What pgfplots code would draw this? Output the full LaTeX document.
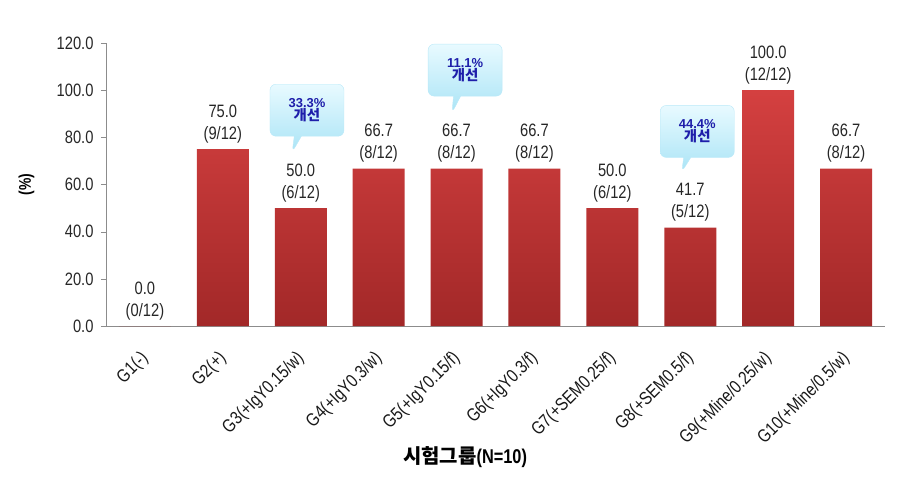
\documentclass[border=0pt]{standalone}
\usepackage{fontspec}
\setmainfont{Liberation Sans}[FakeStretch=0.82]
\newfontfamily\plainsans{Liberation Sans}
\newfontfamily\kr{Noto Sans CJK KR}
\usepackage{pgfplots}
\usepackage{pgfplotstable}
\pgfplotsset{compat=1.18}
\usetikzlibrary{shapes.callouts}
\definecolor{barTop}{RGB}{212,64,64}
\definecolor{barBot}{RGB}{162,40,40}
\definecolor{calTxt}{RGB}{30,30,170}
\definecolor{calTop}{RGB}{232,250,255}
\definecolor{calBot}{RGB}{170,228,246}
\pgfplotstableread{
x y lab
0 0.0 0/12
1 75.0 9/12
2 50.0 6/12
3 66.7 8/12
4 66.7 8/12
5 66.7 8/12
6 50.0 6/12
7 41.7 5/12
8 100.0 12/12
9 66.7 8/12
}\data
\begin{document}
\begin{tikzpicture}
\begin{axis}[
  scale only axis, width=779bp, height=283bp,
  xmin=-0.5, xmax=9.5, ymin=0, ymax=120,
  ytick={0,20,...,120},
  xtick={0,...,9},
  xticklabels={G1(-),G2(+),G3(+IgY0.15/w),G4(+IgY0.3/w),G5(+IgY0.15/f),G6(+IgY0.3/f),G7(+SEM0.25/f),G8(+SEM0.5/f),G9(+Mine/0.25/w),G10(+Mine/0.5/w)},
  xticklabel style={rotate=45, anchor=north east, font=\fontsize{18.5}{20}\selectfont, inner sep=0bp, yshift=-9bp, xshift=-17bp, color=black!90},
  yticklabel style={font=\fontsize{18}{20}\selectfont, color=black!85, xshift=-4bp},
  /pgf/number format/assume math mode=true,
  yticklabel={\pgfmathprintnumber[fixed,fixed zerofill,precision=1]{\tick}},
  axis x line*=bottom, axis y line*=left,
  axis line style={-, draw=black!45},
  xtick style={draw=none},
  ytick style={draw=black!45},
  tick align=outside, major tick length=5bp,
  clip=false,
  ylabel={\bfseries(\%)},
  ylabel style={at={(axis description cs:-0.102,0.5)}, anchor=center, font=\fontsize{17}{19}\selectfont},
  xlabel={{\kr\bfseries 시험그룹}\bfseries(N=10)},
  xlabel style={at={(axis description cs:0.461,-0.463)}, anchor=center, font=\fontsize{20}{22}\selectfont},
  nodes near coords={\pgfmathprintnumber[fixed,fixed zerofill,precision=1]{\rawy}\\(\pgfplotspointmeta)},
  every node near coord/.append style={align=center, font=\fontsize{18}{22}\selectfont, color=black!85, inner sep=2bp, yshift=4bp},
]
\addplot[ybar, bar width=52bp, draw=none, top color=barTop, bottom color=barBot,
  point meta=explicit symbolic, visualization depends on={rawy \as \rawy}]
  table[x=x, y=y, meta=lab] {\data};
\coordinate (O) at (rel axis cs:0,0);
\node[rectangle callout, rounded corners=6bp, minimum width=74bp, minimum height=52bp, align=center,
  top color=calTop, bottom color=calBot, draw=calBot!80!white, line width=0.4bp,
  callout absolute pointer={(axis cs:1.89,73.7)}, inner sep=2bp]
  at (axis cs:2.08,91.5) {\plainsans\fontsize{13}{18}\selectfont\bfseries\color{calTxt}33.3\%\\{\kr\fontsize{14.5}{18}\selectfont\bfseries\color{calTxt}개선}};
\node[rectangle callout, rounded corners=6bp, minimum width=74bp, minimum height=52bp, align=center,
  top color=calTop, bottom color=calBot, draw=calBot!80!white, line width=0.4bp,
  callout absolute pointer={(axis cs:3.94,90.3)}, inner sep=2bp]
  at (axis cs:4.11,108.5) {\plainsans\fontsize{13}{18}\selectfont\bfseries\color{calTxt}11.1\%\\{\kr\fontsize{14.5}{18}\selectfont\bfseries\color{calTxt}개선}};
\node[rectangle callout, rounded corners=6bp, minimum width=74bp, minimum height=52bp, align=center,
  top color=calTop, bottom color=calBot, draw=calBot!80!white, line width=0.4bp,
  callout absolute pointer={(axis cs:6.89,65.3)}, inner sep=2bp]
  at (axis cs:7.09,82.5) {\plainsans\fontsize{13}{18}\selectfont\bfseries\color{calTxt}44.4\%\\{\kr\fontsize{14.5}{18}\selectfont\bfseries\color{calTxt}개선}};
\end{axis}
\pgfresetboundingbox
\path (O) ++(-106bp,-165bp) rectangle ++(914bp,491bp);
\end{tikzpicture}
\end{document}
